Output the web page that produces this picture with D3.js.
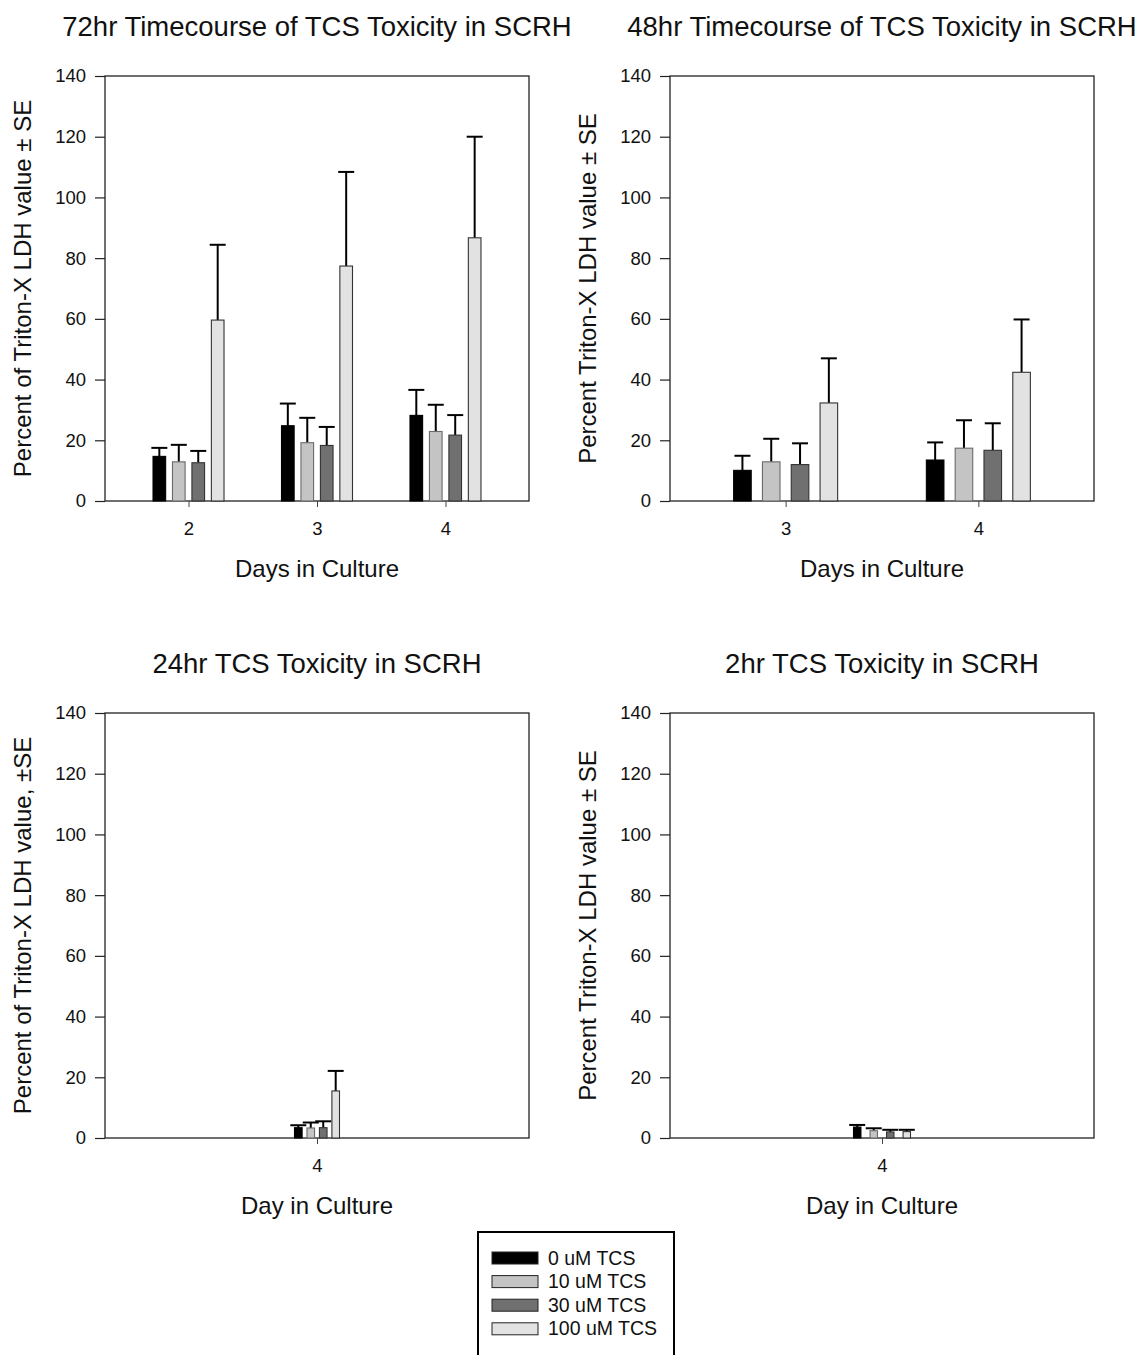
<!DOCTYPE html>
<html>
<head>
<meta charset="utf-8">
<script src="https://cdn.jsdelivr.net/npm/d3@7/dist/d3.min.js"></script>
<style>
  html, body { margin: 0; padding: 0; background: #fff; }
  svg { display: block; font-family: "Liberation Sans", Arial, sans-serif; }
</style>
</head>
<body>
<svg id="chart" width="1142" height="1355"></svg>
<script>
// Treatment groups (TCS concentration) and their fills
const seriesNames = ["0 uM TCS", "10 uM TCS", "30 uM TCS", "100 uM TCS"];
const seriesFill = ["#000000", "#c4c4c4", "#707070", "#e2e2e2"];
const seriesStroke = ["#000000", "#6a6a6a", "#333333", "#333333"];

// y-axis ticks (percent of Triton-X LDH)
const yTicks = [0, 20, 40, 60, 80, 100, 120, 140];

// 72hr timecourse: days 2-4, mean and SE per treatment
const days72 = [2, 3, 4];
const mean72 = [[14.7, 24.8, 28.2], [12.9, 19.2, 22.9], [12.6, 18.3, 21.7], [59.6, 77.4, 86.7]];
const se72   = [[2.8, 7.3, 8.4], [5.6, 8.2, 8.8], [3.9, 6.1, 6.6], [24.8, 31.0, 33.3]];

// 48hr timecourse: days 3-4
const days48 = [3, 4];
const mean48 = [[10.1, 13.5], [12.9, 17.4], [12.0, 16.7], [32.3, 42.4]];
const se48   = [[4.8, 5.8], [7.6, 9.2], [7.0, 8.9], [14.7, 17.4]];

// 24hr exposure: day 4 only
const days24 = [4];
const mean24 = [[3.4], [3.3], [3.4], [15.5]];
const se24   = [[0.8], [1.8], [2.1], [6.6]];

// 2hr exposure: day 4 only
const days2 = [4];
const mean2 = [[3.6], [2.4], [2.0], [2.1]];
const se2   = [[0.7], [0.8], [0.7], [0.6]];

const panels = [
  { title: "72hr Timecourse of TCS Toxicity in SCRH", yTitle: "Percent of Triton-X LDH value \u00b1 SE",
    xTitle: "Days in Culture", cats: days72, mean: mean72, se: se72,
    left: 105, top: 76, pad: 0.65, groupW: 71, inner: 0.35 },
  { title: "48hr Timecourse of TCS Toxicity in SCRH", yTitle: "Percent Triton-X LDH value \u00b1 SE",
    xTitle: "Days in Culture", cats: days48, mean: mean48, se: se48,
    left: 670, top: 76, pad: 0.60, groupW: 104, inner: 0.39 },
  { title: "24hr TCS Toxicity in SCRH", yTitle: "Percent of Triton-X LDH value, \u00b1SE",
    xTitle: "Day in Culture", cats: days24, mean: mean24, se: se24,
    left: 105, top: 713, pad: 0.6, groupW: 45, inner: 0.39 },
  { title: "2hr TCS Toxicity in SCRH", yTitle: "Percent Triton-X LDH value \u00b1 SE",
    xTitle: "Day in Culture", cats: days2, mean: mean2, se: se2,
    left: 670, top: 713, pad: 0.6, groupW: 57, inner: 0.55 }
];

const plotW = 424, plotH = 425, capW = 16;
const svg = d3.select("#chart");

panels.forEach(p => {
  const g = svg.append("g").attr("transform", `translate(${p.left},${p.top})`);

  const x = d3.scalePoint().domain(p.cats).range([0, plotW]).padding(p.pad);
  const y = d3.scaleLinear().domain([0, 140]).range([plotH, 0]);
  const xs = d3.scaleBand().domain(d3.range(seriesNames.length))
    .range([-p.groupW / 2, p.groupW / 2]).paddingInner(p.inner).paddingOuter(0);

  // plot frame
  g.append("rect").attr("x", 0).attr("y", 0).attr("width", plotW).attr("height", plotH)
    .attr("fill", "none").attr("stroke", "#222").attr("stroke-width", 1.3);

  // y axis
  const ya = g.append("g").call(d3.axisLeft(y).tickValues(yTicks).tickSize(10).tickPadding(9));
  ya.select(".domain").remove();
  ya.selectAll(".tick line").attr("stroke", "#222").attr("stroke-width", 1.2);
  ya.selectAll(".tick text").attr("font-size", 18.5).attr("fill", "#111")
    .attr("font-family", "Liberation Sans, Arial, sans-serif");

  // x axis
  const xa = g.append("g").attr("transform", `translate(0,${plotH})`)
    .call(d3.axisBottom(x).tickSize(6).tickPadding(15));
  xa.select(".domain").remove();
  xa.selectAll(".tick line").attr("stroke", "#444").attr("stroke-width", 1);
  xa.selectAll(".tick text").attr("font-size", 18.5).attr("fill", "#111")
    .attr("font-family", "Liberation Sans, Arial, sans-serif");

  // bars with upper error bars
  const rows = [];
  p.cats.forEach((c, ci) => seriesNames.forEach((s, si) => {
    rows.push({ c, si, m: p.mean[si][ci], e: p.se[si][ci] });
  }));

  const bar = g.append("g").selectAll("g").data(rows).join("g")
    .attr("transform", d => `translate(${x(d.c) + xs(d.si)},0)`);

  bar.append("line")
    .attr("x1", xs.bandwidth() / 2).attr("x2", xs.bandwidth() / 2)
    .attr("y1", d => y(d.m)).attr("y2", d => y(d.m + d.e))
    .attr("stroke", "#000").attr("stroke-width", 2);
  bar.append("line")
    .attr("x1", xs.bandwidth() / 2 - capW / 2).attr("x2", xs.bandwidth() / 2 + capW / 2)
    .attr("y1", d => y(d.m + d.e)).attr("y2", d => y(d.m + d.e))
    .attr("stroke", "#000").attr("stroke-width", 2);
  bar.append("rect")
    .attr("x", 0).attr("width", xs.bandwidth())
    .attr("y", d => y(d.m)).attr("height", d => plotH - y(d.m))
    .attr("fill", d => seriesFill[d.si]).attr("stroke", d => seriesStroke[d.si]).attr("stroke-width", 1.1);

  // titles
  g.append("text").attr("x", plotW / 2).attr("y", -40).attr("text-anchor", "middle")
    .attr("font-size", 27.5).attr("fill", "#111").text(p.title);
  g.append("text").attr("x", plotW / 2).attr("y", plotH + 76).attr("text-anchor", "middle")
    .attr("font-size", 24).attr("fill", "#111").text(p.xTitle);
  g.append("text").attr("transform", `translate(-74,${plotH / 2}) rotate(-90)`)
    .attr("text-anchor", "middle").attr("font-size", 24).attr("fill", "#111").text(p.yTitle);
});

// legend
const lg = svg.append("g").attr("transform", "translate(478,1232)");
lg.append("rect").attr("x", 0).attr("y", 0).attr("width", 196).attr("height", 140)
  .attr("fill", "#fff").attr("stroke", "#000").attr("stroke-width", 2);
const li = lg.selectAll("g.item").data(seriesNames).join("g").attr("class", "item")
  .attr("transform", (d, i) => `translate(14,${20 + i * 23.6})`);
li.append("rect").attr("x", 0).attr("y", 0).attr("width", 46).attr("height", 12)
  .attr("fill", (d, i) => seriesFill[i]).attr("stroke", "#222").attr("stroke-width", 1);
li.append("text").attr("x", 56).attr("y", 12.5).attr("font-size", 19.5).attr("fill", "#111").text(d => d);
</script>
</body>
</html>
